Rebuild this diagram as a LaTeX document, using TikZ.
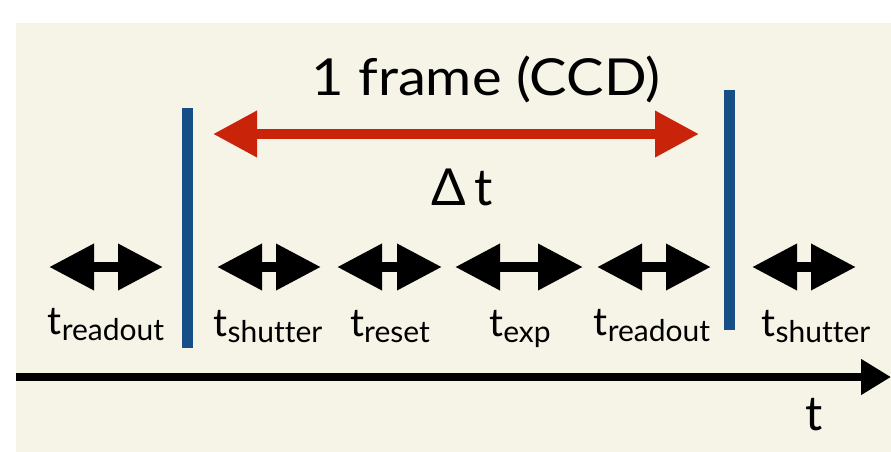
\documentclass[tikz,border=0pt]{standalone}
\usepackage{fontspec}
\setmainfont{Lato}[Ligatures={NoCommon}]
\usetikzlibrary{arrows.meta}
\definecolor{cream}{HTML}{F6F3E7}
\definecolor{barblue}{HTML}{164E86}
\definecolor{framered}{HTML}{C9240A}
\newcommand\tlab[1]{t{\fontsize{30}{30}\selectfont\raisebox{-6pt}{#1}}}
\tikzset{
  span/.style={line width=10pt,{Triangle[length=45pt,width=44pt]}-{Triangle[length=45pt,width=44pt]}},
  bar/.style={line width=11pt,barblue},
  lab/.style={anchor=base,inner sep=0pt,font=\fontsize{39}{39}\selectfont},
  big/.style={anchor=base,inner sep=0pt,font=\fontsize{51}{51}\selectfont},
}
\begin{document}
\begin{tikzpicture}[x=1pt,y=-1pt]
\useasboundingbox (0,0) rectangle (891,452);
\fill[white] (0,0) rectangle (891,452);
\fill[cream] (16,23) rectangle (891,452);
% blue frame markers
\coordinate (b1t) at (187.5,108); \coordinate (b1b) at (187.5,348);
\coordinate (b2t) at (729.5,90);  \coordinate (b2b) at (729.5,330);
\draw[bar] (b1t) -- (b1b);
\draw[bar] (b2t) -- (b2b);
% red frame arrow
\coordinate (rl) at (213,134); \coordinate (rr) at (699,134);
\draw[framered,line width=10pt,{Triangle[length=44pt,width=44pt]}-{Triangle[length=44pt,width=44pt]}] (rl) -- (rr);
\node[big] (frame) at (486,95) {\scalebox{1.1}[1]{1 frame (CCD)}};
\node[big] (dt) at (462,205) {Δ\,t};
% phase arrows
\coordinate (a1l) at (49,267);  \coordinate (a1r) at (163,267);
\coordinate (a2l) at (217,267); \coordinate (a2r) at (321,267);
\coordinate (a3l) at (337,267); \coordinate (a3r) at (442,267);
\coordinate (a4l) at (455,267); \coordinate (a4r) at (583,267);
\coordinate (a5l) at (597,267); \coordinate (a5r) at (711,267);
\coordinate (a6l) at (752,267); \coordinate (a6r) at (856,267);
\draw[span] (a1l) -- (a1r);
\draw[span] (a2l) -- (a2r);
\draw[span] (a3l) -- (a3r);
\draw[span] (a4l) -- (a4r);
\draw[span] (a5l) -- (a5r);
\draw[span] (a6l) -- (a6r);
\node[lab] (l1) at (106,334) {\tlab{readout}};
\node[lab] (l2) at (268,336) {\tlab{shutter}};
\node[lab] (l3) at (390,336) {\tlab{reset}};
\node[lab] (l4) at (520,336) {\tlab{exp}};
\node[lab] (l5) at (652,335) {\tlab{readout}};
\node[lab] (l6) at (816,336) {\tlab{shutter}};
% time axis
\coordinate (ts) at (16,377); \coordinate (te) at (891,377);
\draw[line width=8pt,-{Triangle[length=30pt,width=34pt]}] (ts) -- (te);
\node[anchor=base,inner sep=0pt,font=\fontsize{48}{48}\selectfont] (tl) at (814,430) {t};
\end{tikzpicture}
\end{document}
